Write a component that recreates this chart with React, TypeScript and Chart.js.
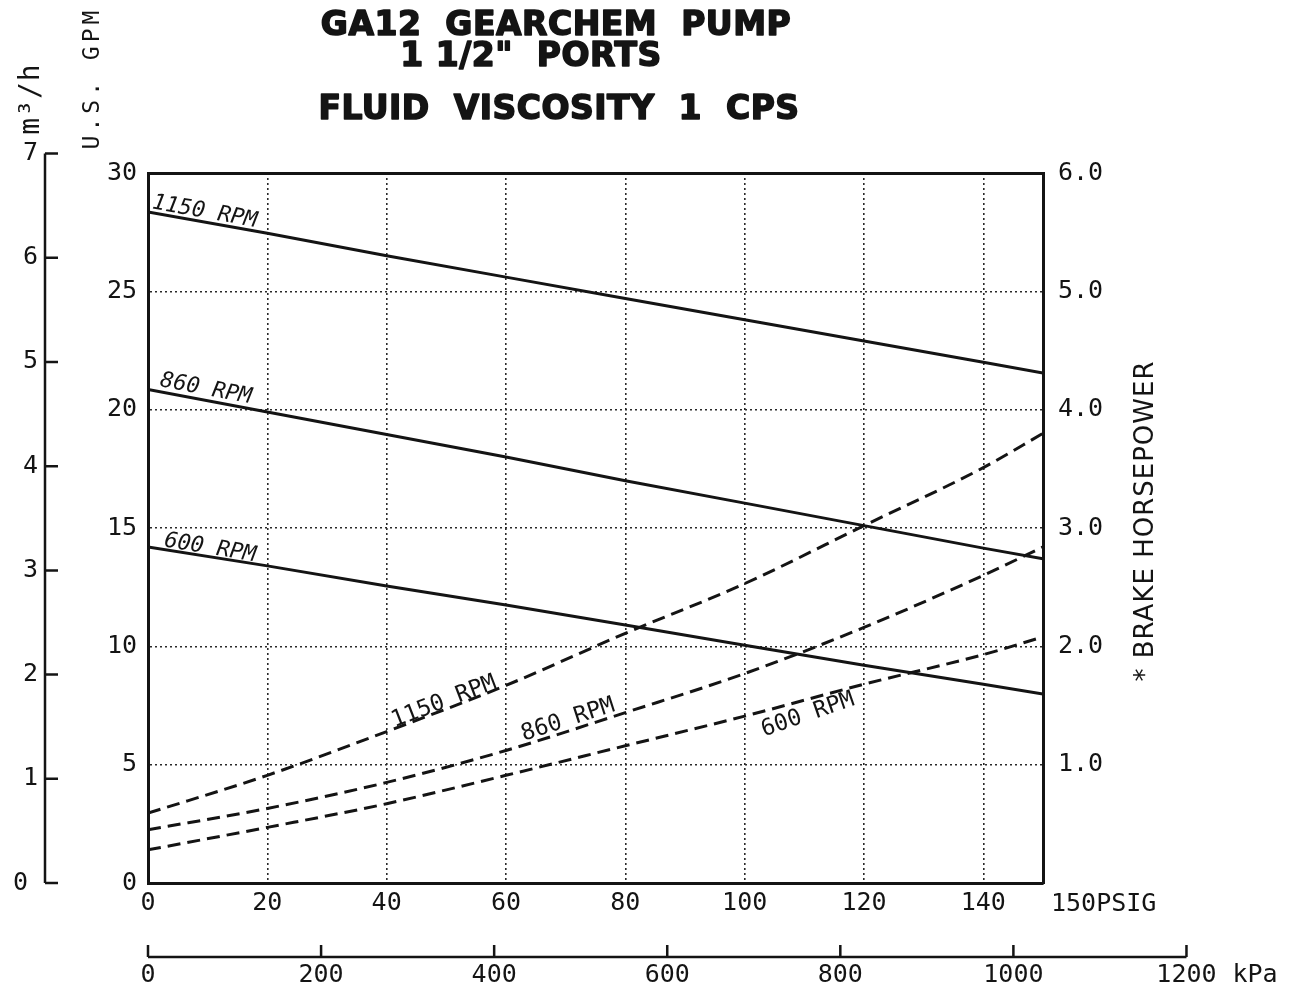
import React, { useEffect, useRef } from "react";
import { Chart, registerables } from "chart.js";

Chart.register(...registerables);

// ---------------- data ----------------
const PSIG = [0, 20, 40, 60, 80, 100, 120, 140, 150];
// capacity (U.S. GPM) – solid lines
const GPM_1150 = [28.35, 27.45, 26.5, 25.6, 24.7, 23.8, 22.9, 22.0, 21.55];
const GPM_860 = [20.85, 19.9, 18.95, 18.0, 17.0, 16.05, 15.1, 14.15, 13.7];
const GPM_600 = [14.2, 13.4, 12.55, 11.75, 10.9, 10.05, 9.2, 8.4, 7.98];
// brake horsepower – dashed lines
const BHP_1150 = [0.59, 0.91, 1.28, 1.67, 2.11, 2.53, 3.02, 3.51, 3.8];
const BHP_860 = [0.45, 0.63, 0.85, 1.12, 1.44, 1.77, 2.16, 2.6, 2.84];
const BHP_600 = [0.28, 0.47, 0.67, 0.91, 1.16, 1.41, 1.68, 1.93, 2.08];

const PSIG_TICKS = [0, 20, 40, 60, 80, 100, 120, 140];
const GPM_TICKS = [0, 5, 10, 15, 20, 25, 30];
const BHP_TICKS = [1, 2, 3, 4, 5, 6];
const M3H_TICKS = [0, 1, 2, 3, 4, 5, 6, 7];
const KPA_TICKS = [0, 200, 400, 600, 800, 1000, 1200];

const TITLE_LINES = ["GA12  GEARCHEM  PUMP", "1 1/2\"  PORTS", "FLUID  VISCOSITY  1  CPS"];
const SPEEDS = ["1150 RPM", "860 RPM", "600 RPM"];

const GPM_PER_M3H = 4.4029;
const KPA_PER_PSI = 6.89476;

// ---------------- styling ----------------
const INK = "#141414";
const MONO = '"DejaVu Sans Mono", monospace';
const SANS = '"DejaVu Sans", sans-serif';

const mk = (arr: number[]) => PSIG.map((p, i) => ({ x: p, y: arr[i] }));

const solid = (label: string, arr: number[]) => ({
  label,
  data: mk(arr),
  yAxisID: "y",
  borderColor: INK,
  borderWidth: 3,
  pointRadius: 0,
  tension: 0,
  fill: false,
});
const dashed = (label: string, arr: number[]) => ({
  label,
  data: mk(arr),
  yAxisID: "yBhp",
  borderColor: INK,
  borderWidth: 3,
  borderDash: [13, 7],
  pointRadius: 0,
  cubicInterpolationMode: "monotone",
  fill: false,
});

const gridColor = (lo: number, hi: number) => (c: any) =>
  c.tick && c.tick.value > lo && c.tick.value < hi ? "#2a2a2a" : "rgba(0,0,0,0)";

function rotText(ctx: CanvasRenderingContext2D, text: string, x: number, y: number, ang: number, font: string) {
  ctx.save();
  ctx.translate(x, y);
  ctx.rotate(ang);
  ctx.font = font;
  ctx.textAlign = "center";
  ctx.textBaseline = "middle";
  ctx.fillText(text, 0, 0);
  ctx.restore();
}

const decor = {
  id: "decor",
  afterDraw(chart: any) {
    const { ctx, scales } = chart;
    const sx = scales.x;
    const sy = scales.y;
    const sb = scales.yBhp;
    const sm = scales.m3h;
    const sk = scales.kpa;
    ctx.save();
    ctx.fillStyle = INK;
    ctx.strokeStyle = INK;

    // ---- title ----
    ctx.textAlign = "center";
    ctx.textBaseline = "alphabetic";
    ctx.font = `bold 33px ${SANS}`;
    (ctx as any).letterSpacing = "0.5px";
    ctx.lineWidth = 1.6;
    ctx.lineJoin = "round";
    const tpos = [
      [556, 35],
      [531, 66],
      [559, 119],
    ];
    TITLE_LINES.forEach((t, i) => {
      ctx.fillText(t, tpos[i][0], tpos[i][1]);
      ctx.strokeText(t, tpos[i][0], tpos[i][1]);
    });
    (ctx as any).letterSpacing = "0px";

    // ---- m3/h axis (left) ----
    const ax = 45;
    ctx.lineWidth = 2.5;
    ctx.beginPath();
    ctx.moveTo(ax, sm.getPixelForValue(0));
    ctx.lineTo(ax, sm.getPixelForValue(7));
    M3H_TICKS.forEach((v) => {
      const py = sm.getPixelForValue(v);
      ctx.moveTo(ax, py);
      ctx.lineTo(ax + 13, py);
    });
    ctx.stroke();
    ctx.font = `25px ${MONO}`;
    ctx.textAlign = "right";
    ctx.textBaseline = "middle";
    M3H_TICKS.forEach((v) => {
      ctx.fillText(String(v), v === 0 ? 28 : 38, sm.getPixelForValue(v));
    });

    // ---- kPa axis (bottom) ----
    const ay = 957;
    ctx.lineWidth = 2.5;
    ctx.beginPath();
    ctx.moveTo(sk.getPixelForValue(0), ay);
    ctx.lineTo(sk.getPixelForValue(1200), ay);
    KPA_TICKS.forEach((v) => {
      const px = sk.getPixelForValue(v);
      ctx.moveTo(px, ay);
      ctx.lineTo(px, ay - 12);
    });
    ctx.stroke();
    ctx.font = `25px ${MONO}`;
    ctx.textAlign = "center";
    KPA_TICKS.forEach((v) => {
      ctx.fillText(String(v), sk.getPixelForValue(v), 975);
    });
    ctx.textAlign = "left";
    ctx.fillText("kPa", sk.getPixelForValue(1200) + 46, 975);

    // ---- 150PSIG ----
    ctx.fillText("150PSIG", sx.getPixelForValue(150) + 8, 904);

    // ---- axis titles ----
    ctx.save();
    ctx.translate(93, 78);
    ctx.rotate(-Math.PI / 2);
    ctx.font = `23px ${MONO}`;
    (ctx as any).letterSpacing = "4px";
    ctx.textAlign = "center";
    ctx.fillText("U.S. GPM", 0, 0);
    ctx.restore();

    ctx.save();
    ctx.translate(32, 99);
    ctx.rotate(-Math.PI / 2);
    ctx.font = `28px ${MONO}`;
    (ctx as any).letterSpacing = "1px";
    ctx.textAlign = "center";
    ctx.fillText("m\u00b3/h", 0, 0);
    ctx.restore();

    ctx.save();
    ctx.translate(1146, 521);
    ctx.rotate(-Math.PI / 2);
    ctx.font = `26px ${SANS}`;
    (ctx as any).letterSpacing = "1px";
    ctx.textAlign = "center";
    ctx.fillText("* BRAKE HORSEPOWER", 0, 0);
    ctx.restore();

    // ---- curve labels ----
    const slope = (arr: number[]) =>
      Math.atan2(
        sy.getPixelForValue(arr[arr.length - 1]) - sy.getPixelForValue(arr[0]),
        sx.getPixelForValue(150) - sx.getPixelForValue(0)
      );
    const solidLab: [string, number, number, number[]][] = [
      [SPEEDS[0], 9.5, 28.35, GPM_1150],
      [SPEEDS[1], 9.7, 20.87, GPM_860],
      [SPEEDS[2], 10.4, 14.15, GPM_600],
    ];
    solidLab.forEach(([t, p, g, arr]) => {
      rotText(ctx, t, sx.getPixelForValue(p), sy.getPixelForValue(g), slope(arr), `italic 22px ${MONO}`);
    });
    const dashLab: [string, number, number, number][] = [
      [SPEEDS[0], 49.6, 1.53, -21],
      [SPEEDS[1], 70.4, 1.377, -18],
      [SPEEDS[2], 110.6, 1.42, -19],
    ];
    dashLab.forEach(([t, p, b, deg]) => {
      rotText(ctx, t, sx.getPixelForValue(p), sb.getPixelForValue(b), (deg * Math.PI) / 180, `23px ${MONO}`);
    });

    ctx.restore();
  },
};

export default function App() {
  const ref = useRef<HTMLCanvasElement>(null);
  useEffect(() => {
    document.body.style.margin = "0";
    const chart = new Chart(ref.current as HTMLCanvasElement, {
      type: "line",
      data: {
        datasets: [
          solid("1150 RPM capacity", GPM_1150),
          solid("860 RPM capacity", GPM_860),
          solid("600 RPM capacity", GPM_600),
          dashed("1150 RPM BHP", BHP_1150),
          dashed("860 RPM BHP", BHP_860),
          dashed("600 RPM BHP", BHP_600),
        ] as any,
      },
      options: {
        responsive: false,
        animation: false,
        layout: { padding: { top: 173, left: 0, right: 0, bottom: 0 } },
        plugins: { legend: { display: false }, tooltip: { enabled: false }, title: { display: false } },
        scales: {
          x: {
            type: "linear",
            position: "bottom",
            min: 0,
            max: 150,
            afterBuildTicks: (s: any) => {
              s.ticks = PSIG_TICKS.map((v) => ({ value: v }));
            },
            afterFit: (s: any) => {
              s.height = 107;
            },
            grid: { color: gridColor(0, 150), lineWidth: 1.6, drawTicks: false },
            border: { display: true, color: INK, width: 3, dash: [2, 3] },
            ticks: { font: { family: MONO, size: 25 }, color: INK, padding: 5, maxRotation: 0, autoSkip: false },
          },
          xTop: {
            type: "linear",
            position: "top",
            min: 0,
            max: 150,
            afterFit: (s: any) => {
              s.height = 0;
            },
            grid: { display: false, drawTicks: false },
            border: { display: true, color: INK, width: 3 },
            ticks: { display: false },
          },
          y: {
            type: "linear",
            position: "left",
            min: 0,
            max: 30,
            afterBuildTicks: (s: any) => {
              s.ticks = GPM_TICKS.map((v) => ({ value: v }));
            },
            afterFit: (s: any) => {
              s.width = 148;
            },
            grid: { color: gridColor(0, 30), lineWidth: 1.6, drawTicks: false },
            border: { display: true, color: INK, width: 3, dash: [2, 3] },
            ticks: { font: { family: MONO, size: 25 }, color: INK, padding: 11 },
          },
          yBhp: {
            type: "linear",
            position: "right",
            min: 0,
            max: 6,
            afterBuildTicks: (s: any) => {
              s.ticks = BHP_TICKS.map((v) => ({ value: v }));
            },
            afterFit: (s: any) => {
              s.width = 265;
            },
            grid: { drawOnChartArea: false, drawTicks: false },
            border: { display: true, color: INK, width: 3 },
            ticks: {
              font: { family: MONO, size: 25 },
              color: INK,
              padding: 15,
              callback: (v: any) => Number(v).toFixed(1),
            },
          },
          m3h: { type: "linear", axis: "y", display: false, min: 0, max: 30 / GPM_PER_M3H },
          kpa: { type: "linear", axis: "x", display: false, min: 0, max: 150 * KPA_PER_PSI },
        } as any,
      },
      plugins: [decor],
    });
    return () => chart.destroy();
  }, []);
  return (
    <div style={{ width: 1308, height: 990, background: "#fff" }}>
      <canvas ref={ref} width={1308} height={990} style={{ display: "block" }} />
    </div>
  );
}
